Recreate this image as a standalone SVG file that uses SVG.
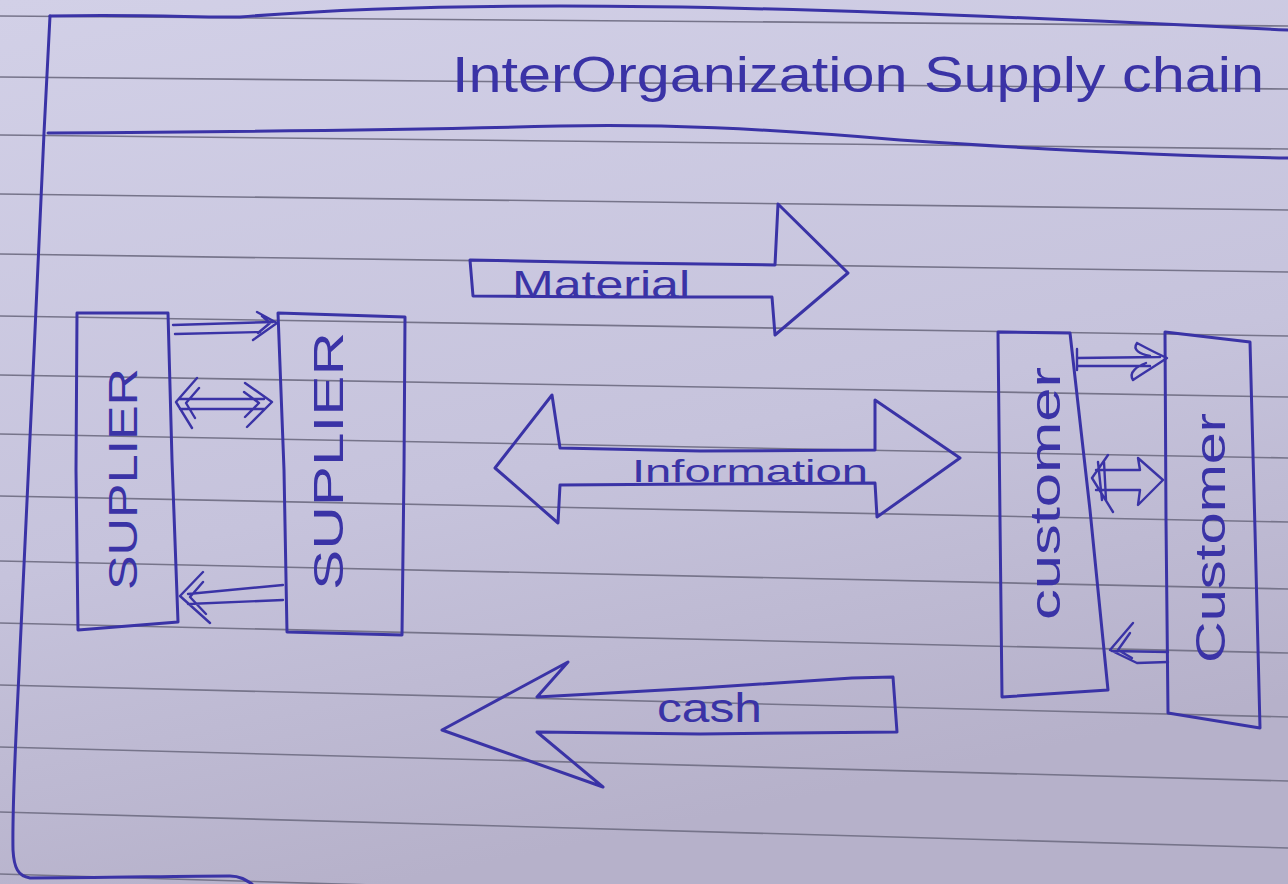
<svg xmlns="http://www.w3.org/2000/svg" width="1288" height="884" viewBox="0 0 1288 884">
<defs>
<linearGradient id="paper" x1="0" y1="0" x2="0.3" y2="1">
<stop offset="0" stop-color="#d2d0e7"/>
<stop offset="0.6" stop-color="#c6c3dc"/>
<stop offset="1" stop-color="#b6b1ca"/>
</linearGradient>
<style>
.rule{stroke:#76748a;stroke-width:1.6;fill:none}
.ink{stroke:#3a33a6;stroke-width:3;fill:none;stroke-linejoin:round;stroke-linecap:round}
.thin{stroke:#3a33a6;stroke-width:2.4;fill:none;stroke-linejoin:round;stroke-linecap:round}
.hand{fill:#3a33a6;font-family:"Liberation Sans","DejaVu Sans",sans-serif}
</style>
</defs>
<rect width="1288" height="884" fill="url(#paper)"/>
<g id="ruled-lines">
<path class="rule" d="M0,16 L1288,26"/>
<path class="rule" d="M0,77 L1288,89"/>
<path class="rule" d="M0,135 L1288,149"/>
<path class="rule" d="M0,194 L1288,210"/>
<path class="rule" d="M0,254 L1288,272"/>
<path class="rule" d="M0,316 L1288,336"/>
<path class="rule" d="M0,375 L1288,397"/>
<path class="rule" d="M0,434 L1288,458"/>
<path class="rule" d="M0,496 L1288,522"/>
<path class="rule" d="M0,561 L1288,589"/>
<path class="rule" d="M0,623 L1288,653"/>
<path class="rule" d="M0,685 L1288,717"/>
<path class="rule" d="M0,747 L1288,781"/>
<path class="rule" d="M0,812 L1288,848"/>
<path class="rule" d="M0,874 L1288,912"/>
</g>
<g id="frame">
<path class="ink" d="M50,16 C150,14 200,18 240,17 C300,12 400,6 560,6 C760,6 1000,16 1288,30"/>
<path class="ink" d="M48,133 C200,132 400,130 560,126 C660,124 760,128 900,140 C1050,150 1180,156 1288,158"/>
<path class="ink" d="M50,16 L44,133 C36,300 28,500 20,650 C16,740 12,800 13,850 C14,868 18,876 30,878 C100,878 180,876 230,876 C240,876 246,880 252,884"/>
</g>
<g id="title">
<text class="hand" x="452" y="92" font-size="50" textLength="812" lengthAdjust="spacingAndGlyphs">InterOrganization Supply chain</text>
</g>
<g id="node-supplier1">
<path class="ink" d="M77,313 L168,313 L172,460 L178,622 L78,630 L76,470 Z"/>
<text class="hand" transform="translate(137,590) rotate(-90)" font-size="40" textLength="222" lengthAdjust="spacingAndGlyphs">SUPLIER</text>
</g>
<g id="node-supplier2">
<path class="ink" d="M278,313 L405,317 L404,470 L402,635 L287,632 L284,470 Z"/>
<text class="hand" transform="translate(343,590) rotate(-90)" font-size="42" textLength="258" lengthAdjust="spacingAndGlyphs">SUPLIER</text>
</g>
<g id="node-customer1">
<path class="ink" d="M998,332 L1070,333 L1090,510 L1108,690 L1002,697 L1000,520 Z"/>
<text class="hand" transform="translate(1060,620) rotate(-90)" font-size="42" textLength="253" lengthAdjust="spacingAndGlyphs">customer</text>
</g>
<g id="node-customer2">
<path class="ink" d="M1165,332 L1250,342 L1255,530 L1260,728 L1168,713 L1166,520 Z"/>
<text class="hand" transform="translate(1225,663) rotate(-90)" font-size="42" textLength="250" lengthAdjust="spacingAndGlyphs">Customer</text>
</g>
<g id="flow-material">
<path class="ink" d="M470,260 L620,263 L775,265 L778,204 L848,273 L775,335 L772,297 L620,297 L473,296 Z"/>
<text class="hand" x="512" y="298" font-size="38" textLength="178" lengthAdjust="spacingAndGlyphs">Material</text>
</g>
<g id="flow-information">
<path class="ink" d="M495,468 L552,395 L560,448 L700,451 L875,450 L875,400 L960,458 L877,517 L875,483 L700,484 L560,485 L558,523 Z"/>
<text class="hand" x="632" y="482" font-size="32" textLength="236" lengthAdjust="spacingAndGlyphs">Information</text>
</g>
<g id="flow-cash">
<path class="ink" d="M442,730 L568,662 L537,697 L700,688 L852,678 L893,677 L897,732 L700,734 L537,732 L603,787 Z"/>
<text class="hand" x="657" y="722" font-size="40" textLength="105" lengthAdjust="spacingAndGlyphs">cash</text>
</g>
<g id="connectors">
<path class="thin" d="M173,325 L273,322 M175,334 L260,332 M257,312 L277,323 L253,340 M262,316 L270,323 L258,333"/>
<path class="thin" d="M180,399 L264,399 M180,409 L264,409 M197,378 L176,402 L192,428 M199,388 L186,403 L195,418 M245,383 L272,402 L247,427 M244,392 L259,403 L245,417"/>
<path class="thin" d="M283,585 L188,594 M283,600 L188,604 M203,572 L180,596 L210,623 M203,582 L190,597 L206,614"/>
<path class="thin" d="M1077,349 L1077,370 M1077,358 L1160,357 M1077,366 L1150,366 M1137,343 C1150,350 1158,354 1167,358 C1155,366 1145,372 1133,380 C1128,372 1138,366 1146,363 M1137,343 C1132,350 1140,354 1150,356"/>
<path class="thin" d="M1108,455 L1092,478 L1113,512 M1098,462 L1102,500 M1104,462 L1106,500 M1096,470 L1140,470 M1096,490 L1140,490 M1140,470 L1138,458 L1163,480 L1138,505 L1140,490"/>
<path class="thin" d="M1168,652 L1112,651 M1168,662 L1137,663 M1133,623 L1110,650 L1137,663 M1130,633 L1118,650 L1132,658"/>
</g>
</svg>
